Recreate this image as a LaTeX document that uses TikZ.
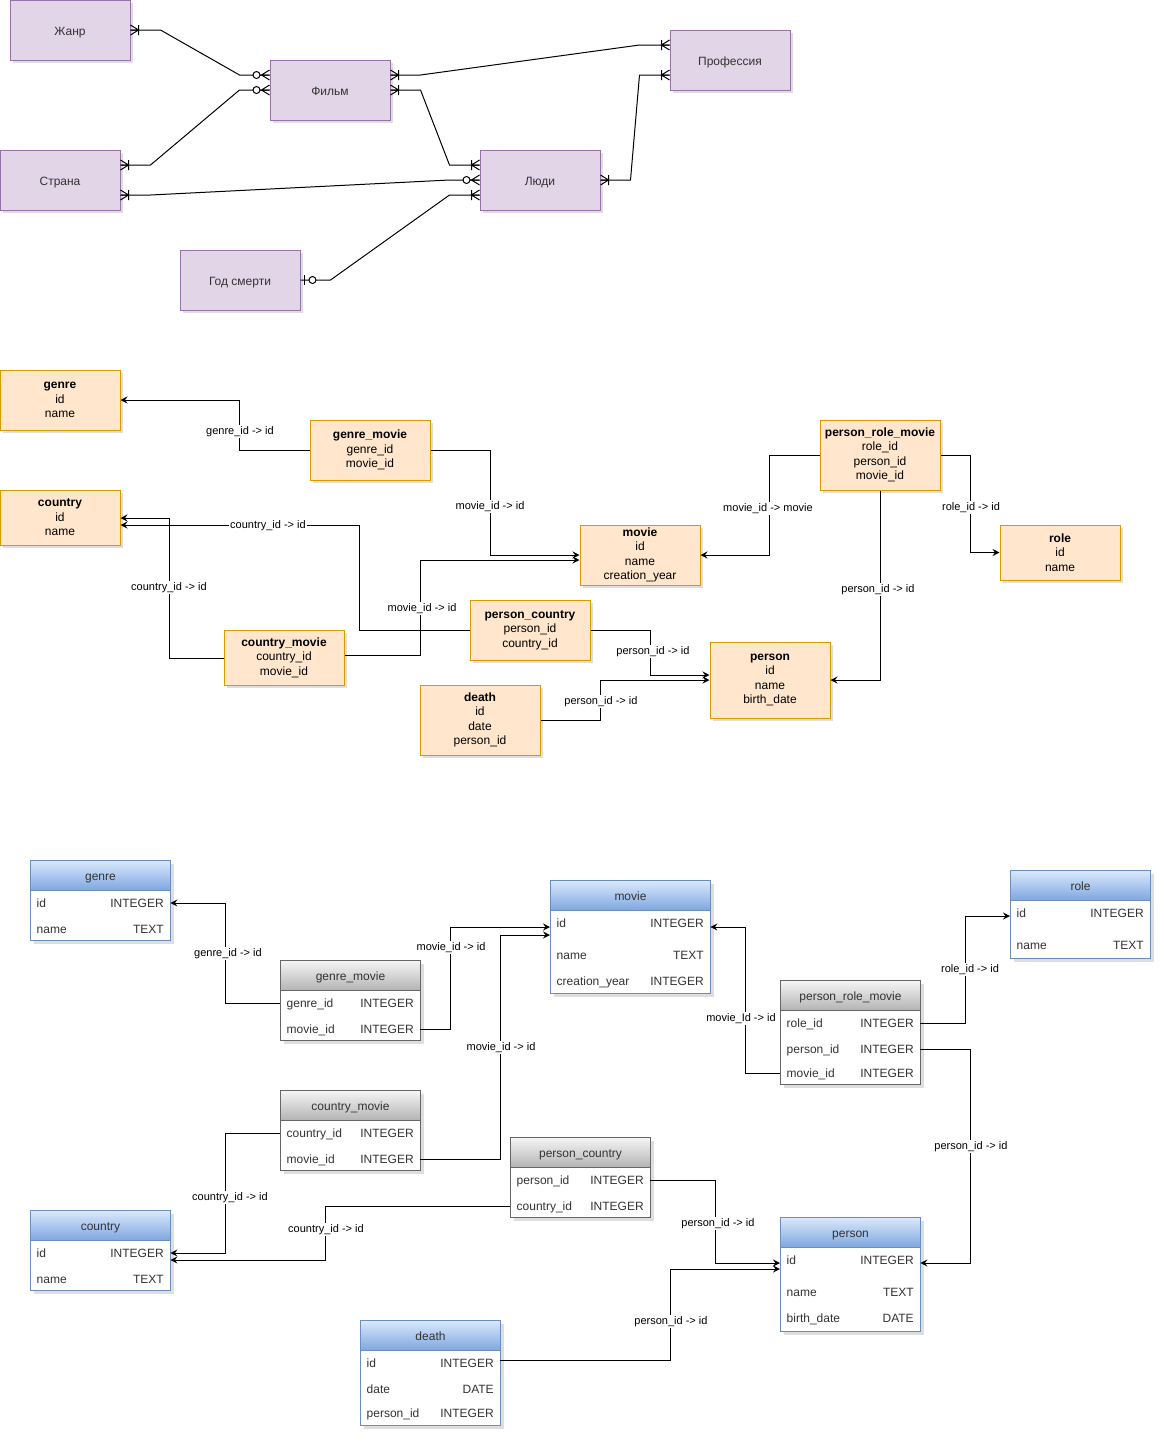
\documentclass[tikz,border=0pt]{standalone}
\usepackage{fontspec}
\setmainfont{Liberation Sans}
\usetikzlibrary{arrows.meta,calc,shadows}

\definecolor{erFill}{HTML}{E1D5E7}
\definecolor{erStroke}{HTML}{9673A6}
\definecolor{relFill}{HTML}{FFE6CC}
\definecolor{relStroke}{HTML}{D79B00}
\definecolor{blueTop}{HTML}{DAE8FC}
\definecolor{blueBot}{HTML}{7EA6E0}
\definecolor{blueStroke}{HTML}{6C8EBF}
\definecolor{grayTop}{HTML}{F5F5F5}
\definecolor{grayBot}{HTML}{B3B3B3}
\definecolor{grayStroke}{HTML}{666666}
\definecolor{ink}{HTML}{333333}

\tikzset{
  base/.style={font=\fontsize{12}{14.5}\selectfont, text=ink},
  oneline/.style={text height=10.5pt, text depth=0.5pt},
  softshadow/.style={drop shadow={shadow xshift=3pt, shadow yshift=-3pt, opacity=0.18, fill=black!70}},
  entity/.style={base, oneline, draw=erStroke, fill=erFill, line width=1pt, minimum width=120, minimum height=60, inner sep=0pt, softshadow},
  rel/.style={base, text=black, align=center, draw=relStroke, fill=relFill, line width=1pt, minimum width=120, inner sep=0pt, softshadow},
  conn/.style={draw=black, line width=1pt},
  fk/.style={conn, -{Stealth[length=7pt, width=7pt, inset=2.5pt]}},
  lbl/.style={fill=white, font=\fontsize{11}{13}\selectfont, text=black, inner xsep=1pt, inner ysep=1.5pt, yshift=-1.5pt},
  bodyblue/.style={draw=blueStroke, fill=white, line width=1pt, inner sep=0pt, softshadow},
  bodygray/.style={draw=grayStroke, fill=white, line width=1pt, inner sep=0pt, softshadow},
  headblue/.style={base, oneline, draw=blueStroke, top color=blueTop, bottom color=blueBot, line width=1pt, inner sep=0pt},
  headgray/.style={base, oneline, draw=grayStroke, top color=grayTop, bottom color=grayBot, line width=1pt, inner sep=0pt},
  rowtxt/.style={base, inner xsep=6.5pt, inner ysep=0pt, text height=11pt, text depth=1.4pt},
  erline/.style={draw=black, line width=1pt}
}

% crow's foot with a bar (one or many); #1 point on the edge, #2 outward x direction
\newcommand\erOneMany[2]{%
  \begin{scope}[shift={#1}, xscale=#2]
    \draw[erline] (0,-5) -- (8,0) -- (0,5) (0,0) -- (8,0) (8,-5) -- (8,5);
  \end{scope}}
% crow's foot with a circle (zero or many)
\newcommand\erZeroMany[2]{%
  \begin{scope}[shift={#1}, xscale=#2]
    \draw[erline] (0,-5) -- (8,0) -- (0,5) (0,0) -- (9.5,0);
    \draw[erline, fill=white] (13,0) circle (3.5);
  \end{scope}}
% bar with a circle (zero or one)
\newcommand\erZeroOne[2]{%
  \begin{scope}[shift={#1}, xscale=#2]
    \draw[erline] (4,-5) -- (4,5);
    \draw[erline, fill=white] (12,0) circle (3.5);
  \end{scope}}

% table: #1 name, #2 left x, #3 top y, #4 width, #5 bottom y, #6 kind (blue/gray), #7 title
\newcommand\dbtable[7]{%
  \node[body#6, minimum width=#4, minimum height={#5-#3}, anchor=north west] (#1-body) at (#2,#3) {};
  \node[head#6, minimum width=#4, minimum height=30, anchor=north west] (#1) at (#2,#3) {#7};}
% table row: #1 name, #2 left x, #3 y, #4 text width, #5 field, #6 type
\newcommand\dbrow[6]{%
  \node[rowtxt, anchor=west] (#1) at (#2,#3) {\makebox[#4pt]{#5\hfill #6}};}

\begin{document}
\begin{tikzpicture}[x=1pt,y=-1pt]
\fill[white] (0,0) rectangle (1163,1441);
\useasboundingbox (0,0) rectangle (1163,1441);

% ---------- conceptual model ----------
\node[entity] (zhanr)  at (70,30)   {Жанр};
\node[entity] (film)   at (330,90)  {Фильм};
\node[entity] (strana) at (60,180)  {Страна};
\node[entity] (god)    at (240,280) {Год смерти};
\node[entity] (prof)   at (730,60)  {Профессия};
\node[entity] (lyudi)  at (540,180) {Люди};

\draw[conn] (zhanr.east) -- ++(30,0) -- ($(film.west)+(-30,-15)$) -- ($(film.west)+(0,-15)$);
\draw[conn] ($(strana.east)+(0,-15)$) -- ++(30,0) -- ($(film.west)+(-30,0)$) -- (film.west);
\draw[conn] ($(strana.east)+(0,15)$) -- ++(30,0) -- ($(lyudi.west)+(-30,0)$) -- (lyudi.west);
\draw[conn] (god.east) -- ++(30,0) -- ($(lyudi.west)+(-30,15)$) -- ($(lyudi.west)+(0,15)$);
\draw[conn] ($(film.east)+(0,-15)$) -- ++(30,0) -- ($(prof.west)+(-30,-15)$) -- ($(prof.west)+(0,-15)$);
\draw[conn] (film.east) -- ++(30,0) -- ($(lyudi.west)+(-30,-15)$) -- ($(lyudi.west)+(0,-15)$);
\draw[conn] (lyudi.east) -- ++(30,0) -- ($(prof.west)+(-30,15)$) -- ($(prof.west)+(0,15)$);

\erOneMany{(zhanr.east)}{1}
\erZeroMany{($(film.west)+(0,-15)$)}{-1}
\erOneMany{($(strana.east)+(0,-15)$)}{1}
\erZeroMany{(film.west)}{-1}
\erOneMany{($(strana.east)+(0,15)$)}{1}
\erZeroMany{(lyudi.west)}{-1}
\erZeroOne{(god.east)}{1}
\erOneMany{($(lyudi.west)+(0,15)$)}{-1}
\erOneMany{($(film.east)+(0,-15)$)}{1}
\erOneMany{($(prof.west)+(0,-15)$)}{-1}
\erOneMany{(film.east)}{1}
\erOneMany{($(lyudi.west)+(0,-15)$)}{-1}
\erOneMany{(lyudi.east)}{1}
\erOneMany{($(prof.west)+(0,15)$)}{-1}

% ---------- logical model ----------
\node[rel, minimum height=60] (rgenre)   at (60,400)    {\textbf{genre}\\id\\name};
\node[rel, minimum height=55] (rcountry) at (60,517.5)  {\textbf{country}\\id\\name};
\node[rel, minimum height=60] (rgm)      at (370,450)   {\textbf{genre\_movie}\\genre\_id\\movie\_id};
\node[rel, minimum height=60] (rmovie)   at (640,555)   {\textbf{movie}\\id\\name\\creation\_year};
\node[rel, minimum height=70] (rprm)     at (880,455)   {\textbf{person\_role\_movie}\\role\_id\\person\_id\\movie\_id};
\node[rel, minimum height=55] (rrole)    at (1060,552.5){\textbf{role}\\id\\name};
\node[rel, minimum height=55] (rcm)      at (284,657.5) {\textbf{country\_movie}\\country\_id\\movie\_id};
\node[rel, minimum height=60] (rpc)      at (530,630)   {\textbf{person\_country}\\person\_id\\country\_id};
\node[rel, minimum height=76] (rperson)  at (770,680)   {\textbf{person}\\id\\name\\birth\_date};
\node[rel, minimum height=70] (rdeath)   at (480,720)   {\textbf{death}\\id\\date\\person\_id};

\draw[fk] (rgm.west) -- ++(-70,0) |- (rgenre.east);
\draw[fk] (rgm.east) -- ++(60,0) |- (rmovie.west);
\draw[fk] ($(rcm.east)+(0,-2.5)$) -- ++(76,0) |- ($(rmovie.west)+(0,5)$);
\draw[fk] ($(rcm.west)+(0,0.5)$) -- ++(-54,0) |- ($(rcountry.east)+(0,0.5)$);
\draw[fk] (rpc.west) -- ++(-110,0) |- ($(rcountry.east)+(0,7.5)$);
\draw[fk] (rpc.east) -- ++(60,0) |- ($(rperson.west)+(0,-5)$);
\draw[fk] (rdeath.east) -- ++(60,0) |- (rperson.west);
\draw[fk] (rprm.west) -- ++(-50,0) |- (rmovie.east);
\draw[fk] (rprm.east) -- ++(30,0) |- (rrole.west);
\draw[fk] (rprm.south) |- (rperson.east);

\node[lbl] (la1)  at (240,430) {genre\_id -> id};
\node[lbl] (la2)  at (490,505) {movie\_id -> id};
\node[lbl] (la3)  at (422,607) {movie\_id -> id};
\node[lbl] (la4)  at (169,586) {country\_id -> id};
\node[lbl] (la5)  at (268,524) {country\_id -> id};
\node[lbl] (la6)  at (653,650) {person\_id -> id};
\node[lbl] (la7)  at (601,700) {person\_id -> id};
\node[lbl] (la8)  at (768,507) {movie\_id -> movie};
\node[lbl] (la9)  at (971,506) {role\_id -> id};
\node[lbl] (la10) at (878,588) {person\_id -> id};

% ---------- physical model ----------
\dbtable{genre}{30}{860}{140}{940}{blue}{genre}
\dbrow{genre-id}{30}{903}{127}{id}{INTEGER}
\dbrow{genre-name}{30}{929}{127}{name}{TEXT}

\dbtable{gmo}{280}{960}{140}{1040}{gray}{genre\_movie}
\dbrow{gmo-gid}{280}{1003}{127}{genre\_id}{INTEGER}
\dbrow{gmo-mid}{280}{1029}{127}{movie\_id}{INTEGER}

\dbtable{movie}{550}{880}{160}{993}{blue}{movie}
\dbrow{movie-id}{550}{923}{147}{id}{INTEGER}
\dbrow{movie-name}{550}{955}{147}{name}{TEXT}
\dbrow{movie-year}{550}{981}{147}{creation\_year}{INTEGER}

\dbtable{role}{1010}{870}{140}{958}{blue}{role}
\dbrow{role-id}{1010}{913}{127}{id}{INTEGER}
\dbrow{role-name}{1010}{945}{127}{name}{TEXT}

\dbtable{prm}{780}{980}{140}{1084}{gray}{person\_role\_movie}
\dbrow{prm-rid}{780}{1023}{127}{role\_id}{INTEGER}
\dbrow{prm-pid}{780}{1049}{127}{person\_id}{INTEGER}
\dbrow{prm-mid}{780}{1073}{127}{movie\_id}{INTEGER}

\dbtable{cmo}{280}{1090}{140}{1170}{gray}{country\_movie}
\dbrow{cmo-cid}{280}{1133}{127}{country\_id}{INTEGER}
\dbrow{cmo-mid}{280}{1159}{127}{movie\_id}{INTEGER}

\dbtable{pco}{510}{1137}{140}{1217}{gray}{person\_country}
\dbrow{pco-pid}{510}{1180}{127}{person\_id}{INTEGER}
\dbrow{pco-cid}{510}{1206}{127}{country\_id}{INTEGER}

\dbtable{country}{30}{1210}{140}{1290}{blue}{country}
\dbrow{country-id}{30}{1253}{127}{id}{INTEGER}
\dbrow{country-name}{30}{1279}{127}{name}{TEXT}

\dbtable{person}{780}{1217}{140}{1331}{blue}{person}
\dbrow{person-id}{780}{1260}{127}{id}{INTEGER}
\dbrow{person-name}{780}{1292}{127}{name}{TEXT}
\dbrow{person-bd}{780}{1318}{127}{birth\_date}{DATE}

\dbtable{death}{360}{1320}{140}{1425}{blue}{death}
\dbrow{death-id}{360}{1363}{127}{id}{INTEGER}
\dbrow{death-date}{360}{1389}{127}{date}{DATE}
\dbrow{death-pid}{360}{1413}{127}{person\_id}{INTEGER}

\draw[fk] (gmo-gid.west) -- ++(-55,0) |- (genre-id.east);
\draw[fk] (gmo-mid.east) -- ++(30,0) |- ($(movie-id.west)+(0,4)$);
\draw[fk] (cmo-mid.east) -- ++(80,0) |- ($(movie-id.west)+(0,12)$);
\draw[fk] (cmo-cid.west) -- ++(-55,0) |- (country-id.east);
\draw[fk] (pco-cid.west) -- ++(-185,0) |- ($(country-id.east)+(0,7)$);
\draw[fk] (pco-pid.east) -- ++(65,0) |- ($(person-id.west)+(0,3)$);
\draw[fk] ($(death-id.east)+(0,-3)$) -- ++(170,0) |- ($(person-id.west)+(0,9)$);
\draw[fk] (prm-mid.west) -- ++(-35,0) |- ($(movie-id.east)+(0,4)$);
\draw[fk] (prm-rid.east) -- ++(45,0) |- ($(role-id.west)+(0,3)$);
\draw[fk] (prm-pid.east) -- ++(50,0) |- ($(person-id.east)+(0,3)$);

\node[lbl] (lb1)  at (228,952)  {genre\_id -> id};
\node[lbl] (lb2)  at (451,946)  {movie\_id -> id};
\node[lbl] (lb3)  at (501,1046) {movie\_id -> id};
\node[lbl] (lb4)  at (230,1196) {country\_id -> id};
\node[lbl] (lb5)  at (326,1228) {country\_id -> id};
\node[lbl] (lb6)  at (718,1222) {person\_id -> id};
\node[lbl] (lb7)  at (671,1320) {person\_id -> id};
\node[lbl] (lb8)  at (741,1017) {movie\_Id -> id};
\node[lbl] (lb9)  at (970,968)  {role\_id -> id};
\node[lbl] (lb10) at (971,1145) {person\_id -> id};
\end{tikzpicture}
\end{document}
